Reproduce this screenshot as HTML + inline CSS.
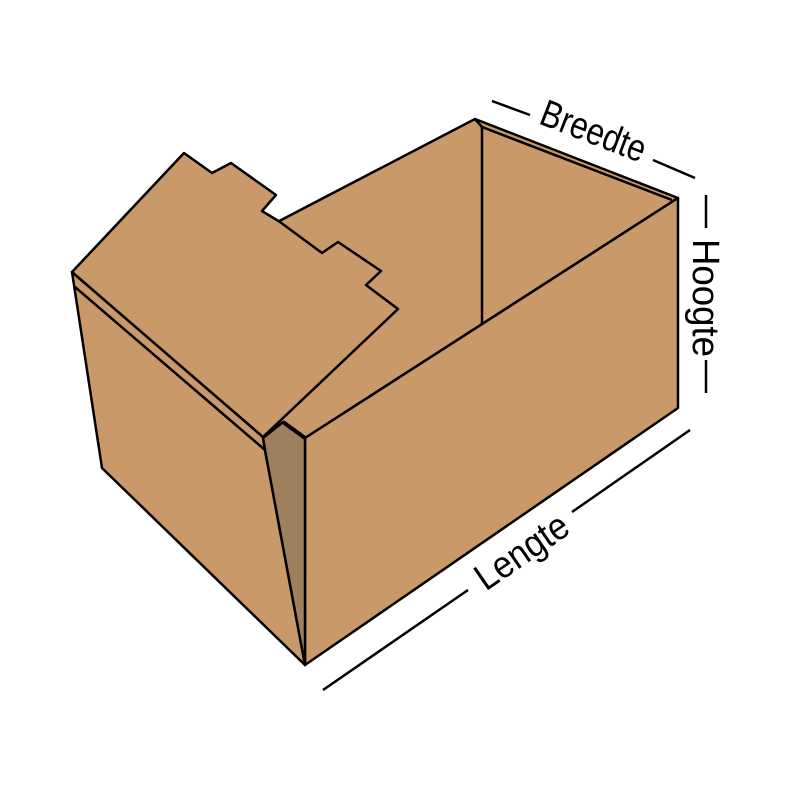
<!DOCTYPE html>
<html><head><meta charset="utf-8"><style>html,body{margin:0;padding:0;background:#fff}svg{display:block}</style></head>
<body>
<svg width="800" height="800" viewBox="0 0 800 800" xmlns="http://www.w3.org/2000/svg">
<g stroke="#000" stroke-width="2.5" stroke-linejoin="round" fill="#c9996a">
  <polygon points="262,230 475,119 678,198 305,438 263,437"/>
  <line x1="482" y1="127" x2="482" y2="325"/>
  <polyline points="475,119 482,127 672,200" fill="none"/>
  <polygon points="305,438 678,198 678,408 305,665"/>
  <polygon points="72,272 102,468 305,665 265,450 263,437"/>
  <polyline points="75,287 265,450" fill="none"/>
  <polygon points="263,438 283,422 305,438 305,665 265,450" fill="#9e7f5e"/>
  <line x1="283" y1="422" x2="305" y2="438" stroke-width="4"/>
  <polygon points="72,272 184,153 212,173 231,163 276,195 262,211 280,222 322,253 338,242 381,271 366,285 398,309 263,437"/>
</g>
<g stroke="#000" stroke-width="2.5">
  <line x1="492" y1="101" x2="530" y2="115"/>
  <line x1="653" y1="160" x2="695" y2="178"/>
  <line x1="706" y1="195" x2="706" y2="228"/>
  <line x1="706" y1="360" x2="706" y2="393"/>
  <line x1="323" y1="690" x2="468" y2="590"/>
  <line x1="572" y1="512" x2="690" y2="430"/>
</g>
<g font-family="Liberation Sans, sans-serif" font-size="38" fill="#000" text-anchor="middle">
  <text transform="translate(589,143) rotate(21)" textLength="110" lengthAdjust="spacingAndGlyphs">Breedte</text>
  <text transform="translate(693,298) rotate(90)" textLength="118" lengthAdjust="spacingAndGlyphs">Hoogte</text>
  <text transform="translate(529,562) rotate(-34.6)" textLength="105" lengthAdjust="spacingAndGlyphs">Lengte</text>
</g>
</svg>
</body></html>
